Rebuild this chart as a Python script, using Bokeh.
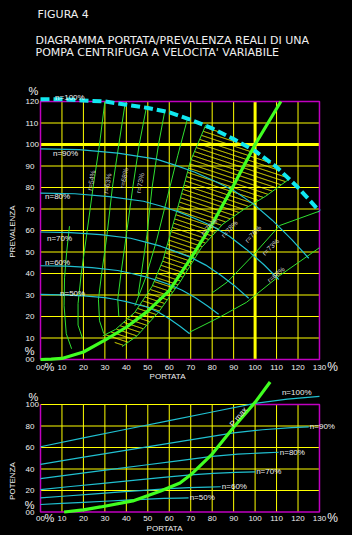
import numpy as np
from bokeh.plotting import figure
from bokeh.models import Range1d
from bokeh.layouts import column
from bokeh.embed import file_html
from bokeh.resources import INLINE
from bokeh.core.properties import value

# ---------------- DATA ----------------
title_lines = ["FIGURA  4",
               "DIAGRAMMA PORTATA/PREVALENZA REALI DI UNA",
               "POMPA CENTRIFUGA A VELOCITA' VARIABILE"]

q_ticks = [0, 10, 20, 30, 40, 50, 60, 70, 80, 90, 100, 110, 120, 130]
h_ticks = [0, 10, 20, 30, 40, 50, 60, 70, 80, 90, 100, 110, 120]
p_ticks = [0, 20, 40, 60, 80, 100]
grid_q = [10, 20, 30, 40, 50, 60, 70, 80, 90, 110, 120]
grid_h = [10, 20, 30, 40, 50, 60, 70, 80, 90, 110]
grid_p = [20, 40, 60, 80]

speed_names = ["n=100%", "n=90%", "n=80%", "n=70%", "n=60%", "n=50%"]

# head curves (portata %, prevalenza %) for each speed
head_q = [
    [0, 10, 20, 30, 40, 50, 60, 70, 80, 90, 100, 110, 120, 130],
    [0, 18, 36, 54, 63, 72, 81, 90, 99, 108, 117, 125],
    [0, 16, 32, 48, 56, 64, 72, 80, 88, 96, 104, 111],
    [0, 14, 28, 42, 49, 56, 63, 70, 77, 84, 91, 97],
    [0, 12, 24, 36, 42, 48, 54, 60, 66, 72, 78, 83],
    [0, 10, 20, 30, 35, 40, 45, 50, 55, 60, 65, 69.5],
]
head_h = [
    [121, 121, 120.5, 120, 118.5, 117, 115, 111.5, 107.5, 102.5, 97, 89.5, 80, 69],
    [98, 97.6, 96, 93.2, 90.3, 87.1, 83, 78.6, 72.5, 64.8, 55.9, 47.1],
    [77.4, 77.1, 75.8, 73.6, 71.4, 68.8, 65.6, 62.1, 57.3, 51.2, 44.2, 37.2],
    [59.3, 59.0, 58.1, 56.4, 54.6, 52.7, 50.2, 47.5, 43.9, 39.2, 33.8, 28.5],
    [43.6, 43.4, 42.7, 41.4, 40.1, 38.7, 36.9, 34.9, 32.2, 28.8, 24.8, 21.0],
    [30.3, 30.1, 29.6, 28.8, 27.9, 26.9, 25.6, 24.3, 22.0, 19.0, 15.5, 12.0],
]

# system curve (thick green)
sys_q = [0, 5, 10, 20, 30, 40, 50, 60, 70, 80, 90, 100, 106, 112]
sys_h = [0, 0.2, 0.5, 3.5, 9, 15, 22.5, 32, 47, 63, 81, 100, 110, 120]

# iso-efficiency curves (thin green)
eta_q = [
    [13.5, 12.2, 11.2, 11, 12, 14.5],
    [30, 27.5, 24.5, 21.5, 19, 17.5, 17.5, 19.5],
    [39.5, 36.5, 33.5, 31, 28.5, 27, 27.5, 29.5],
    [49.5, 46, 43, 40, 37.5, 36, 36.5],
    [58, 55, 52, 49.6, 47, 45.5],
    [68.5, 64, 59, 54, 49, 44],
    [77, 70, 63.5, 57, 52, 44, 35, 29],
    [38, 45, 55, 65, 75, 85, 95, 105, 116],
    [69.5, 83.5, 96, 111.4, 130],
    [80, 87, 99, 111.4, 130],
]
eta_h = [
    [62, 50, 38, 25, 12, 5],
    [120, 100, 80, 58, 40, 26, 16, 10],
    [119.5, 100, 80, 58, 40, 28, 18, 12],
    [118, 100, 80, 58, 40, 28, 20],
    [116, 100, 80, 58, 40, 30],
    [112, 95, 75, 55, 38, 25],
    [109, 92.6, 69, 46, 34, 22, 14, 11],
    [6, 11, 22, 36, 52, 63, 70, 76, 84],
    [12.7, 19.7, 26.6, 39, 52],
    [31, 36, 48.4, 62.3, 69],
]
eta_names = ["r=54%", "r=63%", "r=68%", "r=73%", "r=76%", "r=78%", "r=76%", "r=73%", "r=68%"]
eta_lab_q = [23.7, 31.2, 38.9, 46.4, 78.5, 88, 99, 107.2, 109.7]
eta_lab_h = [83.3, 81.9, 84.4, 82.1, 61.6, 60.7, 58.4, 52.3, 39.5]
eta_lab_ang = [80, 80, 80, 80, 48, 48, 48, 45, 40]

# speed-label anchor points (top chart)
n_lab_q = [6.8, 5.8, 2.1, 3, 2.1, 9.1]
n_lab_h = [122, 95.6, 75.6, 56.5, 45.1, 30.7]

# power curves (portata %, potenza %)
pow_q = [
    [0, 20, 40, 60, 80, 100, 115, 130],
    [0, 18, 36, 54, 72, 90, 103.5, 117, 125],
    [0, 16, 32, 48, 64, 80, 92, 104, 111],
    [0, 14, 28, 42, 56, 70, 80.5, 91, 100],
    [0, 12, 24, 36, 48, 60, 69, 78, 84],
    [0, 10, 20, 30, 40, 50, 57.5, 65, 69],
]
pow_p = [
    [60.7, 69, 77, 85, 93, 101, 105, 107.5],
    [44.3, 50.3, 56.1, 62, 67.8, 73.6, 76.5, 78.4, 79.2],
    [31.1, 35.3, 39.4, 43.5, 47.6, 51.7, 53.8, 55, 55.6],
    [20.8, 23.7, 26.4, 29.2, 31.9, 34.6, 36, 36.9, 37.3],
    [13.1, 14.9, 16.6, 18.4, 20.1, 21.8, 22.7, 23.2, 23.5],
    [7.0, 8.0, 9.0, 10.0, 11.0, 12.0, 12.6, 13.0, 13.2],
]
pmax_q = [11, 20, 28, 43, 56, 65, 70, 80, 90, 100, 107]
pmax_p = [0, 2, 4.7, 10.3, 19.6, 27, 34.6, 53.9, 78.8, 102, 121]

# ---------------- STYLE ----------------
FONT = "Liberation Sans"
TFONT = "DejaVu Sans"
YEL = "#FFFF00"
MAG = "#C000C0"
CYAN = "#20C0D0"
GREEN = "#30E030"
GREEN_THICK = "#40FF20"
TXT = "#F0F0F0"
X_RANGE = (-18.639, 145.387)


def make_fig(height, y_range):
    p = figure(width=352, height=height, x_range=Range1d(*X_RANGE), y_range=Range1d(*y_range),
               output_backend="svg", toolbar_location=None,
               min_border_left=0, min_border_right=0, min_border_top=0, min_border_bottom=0)
    p.background_fill_color = "black"
    p.border_fill_color = "black"
    p.outline_line_color = None
    p.grid.visible = False
    p.axis.visible = False
    return p


def txt(p, x, y, text, size="8px", color=TXT, angle=0, align="left", base="middle", font=FONT):
    p.text(x=x, y=y, text=text, text_color=color, text_font=value(font),
           text_font_size=size, angle=angle, angle_units="deg",
           text_align=align, text_baseline=base)


def inside(px, py, vx, vy):
    res = np.zeros(px.shape, bool)
    n = len(vx)
    j = n - 1
    for i in range(n):
        xi, yi, xj, yj = vx[i], vy[i], vx[j], vy[j]
        cond = ((yi > py) != (yj > py)) & (px < (xj - xi) * (py - yi) / (yj - yi + 1e-12) + xi)
        res ^= cond
        j = i
    return res


def tick_text(ticks):
    return ["00" if t == 0 else str(t) for t in ticks]


# ================= TOP CHART =================
top = make_fig(380, (-9.767, 166.977))

# grid
top.segment(x0=grid_q, y0=0, x1=grid_q, y1=120, line_color=YEL, line_width=1)
top.segment(x0=0, y0=grid_h, x1=130, y1=grid_h, line_color=YEL, line_width=1)

# hatched operating region
left_q, left_h = eta_q[6], eta_h[6]
right_q, right_h = eta_q[7], eta_h[7]
pq, ph = np.array(head_q[0], float), np.array(head_h[0], float)
topsel = (pq > left_q[0]) & (pq < right_q[-1])
poly_x = list(left_q) + list(right_q) + [right_q[-1]] + list(pq[topsel][::-1]) + [left_q[0]]
poly_y = list(left_h) + list(right_h) + [float(np.interp(right_q[-1], pq, ph))] + \
         list(ph[topsel][::-1]) + [float(np.interp(left_q[0], pq, ph))]
poly_x, poly_y = np.array(poly_x), np.array(poly_y)
qs = np.arange(0, 131, 0.2)
hx, hy = [], []
for c in np.arange(0, 170, 2.15):
    hs = c - 0.33 * qs
    m = inside(qs, hs, poly_x, poly_y)
    if not m.any():
        continue
    idx = np.flatnonzero(m)
    runs = np.split(idx, np.flatnonzero(np.diff(idx) > 1) + 1)
    for r in runs:
        if len(r) > 1:
            hx.append(list(qs[r]))
            hy.append(list(hs[r]))
top.multi_line(hx, hy, line_color=YEL, line_width=1)

# thick 100 % lines and frame
top.line([100, 100], [0, 120], line_color=YEL, line_width=3)
top.line([0, 130], [100, 100], line_color=YEL, line_width=3)
top.line([0, 0, 130, 130, 0], [0, 120, 120, 0, 0], line_color=MAG, line_width=1.5)

# iso-efficiency lines
top.multi_line(eta_q, eta_h, line_color=GREEN, line_width=1)

# speed curves
for i in range(1, 6):
    top.line(head_q[i], head_h[i], line_color=CYAN, line_width=1.2)
top.line(head_q[0], head_h[0], line_color="#10E8F0", line_width=4, line_dash="9 4")

# system curve
top.line(sys_q, sys_h, line_color=GREEN_THICK, line_width=3.2)

# labels
for i, t in enumerate(speed_names):
    txt(top, [n_lab_q[i]], [n_lab_h[i]], [t], size="8px")
for i, t in enumerate(eta_names):
    txt(top, [eta_lab_q[i]], [eta_lab_h[i]], [t], size="7px", color="#C8C8C8",
        angle=eta_lab_ang[i], align="center")

# axis tick labels
txt(top, [-7.0] * len(h_ticks), h_ticks, tick_text(h_ticks), size="8px")
txt(top, q_ticks, [-3.5] * len(q_ticks), tick_text(q_ticks), size="8px", align="center")

txt(top, [-1.4], [160.5], [title_lines[0]], size="11px", font=TFONT)
txt(top, [-2.33], [148.6], [title_lines[1]], size="11px", font=TFONT)
txt(top, [-2.33], [143.0], [title_lines[2]], size="11px", font=TFONT)
txt(top, [-3.3], [124.7], ["%"], size="11px", align="center")
txt(top, [-5.1], [3.95], ["%"], size="11px", align="center")
txt(top, [4.2], [-3.5], ["%"], size="11px", align="center")
txt(top, [136.1], [-3.5], ["%"], size="12px", align="center")
txt(top, [-13.05], [59.5], ["PREVALENZA"], size="8px", angle=90, align="center")
txt(top, [59.2], [-7.9], ["PORTATA"], size="8px", align="center")

# ================= BOTTOM CHART =================
bot = make_fig(155, (-21.86, 122.33))

bot.segment(x0=grid_q + [100], y0=0, x1=grid_q + [100], y1=100, line_color=YEL, line_width=1)
bot.segment(x0=0, y0=grid_p, x1=130, y1=grid_p, line_color=YEL, line_width=1)
bot.line([0, 100], [100, 100], line_color=YEL, line_width=1.2)
bot.line([100, 130, 130, 0, 0], [100, 100, 0, 0, 100], line_color=MAG, line_width=1.5)

for i in range(6):
    bot.line(pow_q[i], pow_p[i], line_color=CYAN, line_width=1.2)
    if i == 0:
        txt(bot, [112.5], [111.6], [speed_names[i]], size="8px")
    else:
        txt(bot, [pow_q[i][-1] + 0.5], [pow_p[i][-1]], [speed_names[i]], size="8px")

bot.line(pmax_q, pmax_p, line_color=GREEN_THICK, line_width=3.2)
txt(bot, [92.3], [88.4], ["P max"], size="8px", angle=50, align="center")

txt(bot, [-7.0] * len(p_ticks), p_ticks, tick_text(p_ticks), size="8px")
txt(bot, q_ticks, [-5.6] * len(q_ticks), tick_text(q_ticks), size="8px", align="center")
txt(bot, [-3.3], [107.4], ["%"], size="11px", align="center")
txt(bot, [-5.1], [6.5], ["%"], size="11px", align="center")
txt(bot, [4.2], [-5.6], ["%"], size="11px", align="center")
txt(bot, [136.1], [-5.6], ["%"], size="12px", align="center")
txt(bot, [-13.05], [28.8], ["POTENZA"], size="8px", angle=90, align="center")
txt(bot, [57.8], [-15.3], ["PORTATA"], size="8px", align="center")

layout = column(top, bot, spacing=0)
html = file_html(layout, INLINE)
html = html.replace("<body>", '<body style="margin:0;background:black;">')
open("out.html", "w").write(html)
